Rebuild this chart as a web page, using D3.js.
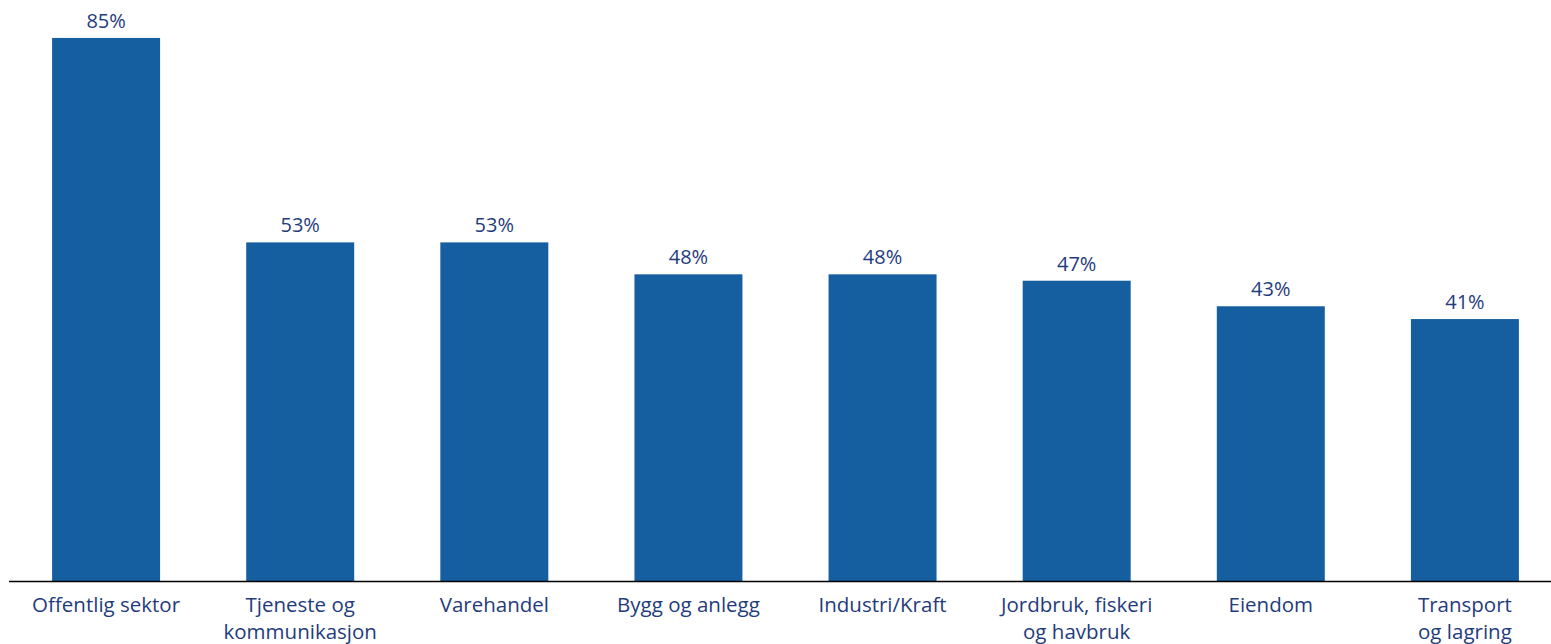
<!DOCTYPE html>
<html><head><meta charset="utf-8">
<script src="https://cdn.jsdelivr.net/npm/d3@7"></script>
<style>body{margin:0;background:#fff}svg{display:block}</style>
</head><body>
<svg id="c" width="1551" height="644"></svg>
<script>
const categories = [["Offentlig sektor"],["Tjeneste og","kommunikasjon"],["Varehandel"],["Bygg og anlegg"],["Industri/Kraft"],["Jordbruk, fiskeri","og havbruk"],["Eiendom"],["Transport","og lagring"]];
const values = [85,53,53,48,48,47,43,41];
const barColor = "#155FA0", textColor = "#1F3C7C";
const svg = d3.select("#c");
const x = d3.scaleBand().domain(d3.range(categories.length)).range([9,1562]).paddingInner(0.4437).paddingOuter(0.222);
const y = d3.scaleLinear().domain([0,90]).range([581,6]);
const font = "'Open Sans', sans-serif";
svg.selectAll("rect.bar").data(values).join("rect").attr("class","bar")
  .attr("x",(d,i)=>x(i)).attr("width",x.bandwidth())
  .attr("y",d=>y(d)).attr("height",d=>y(0)-y(d)).attr("fill",barColor);
svg.selectAll("text.val").data(values).join("text").attr("class","val")
  .attr("x",(d,i)=>x(i)+x.bandwidth()/2).attr("y",d=>y(d)-10)
  .attr("text-anchor","middle").attr("font-family",font).attr("font-size",20)
  .attr("fill",textColor).text(d=>d+"%");
svg.append("line").attr("x1",9).attr("x2",1551).attr("y1",y(0)+0.5).attr("y2",y(0)+0.5)
  .attr("stroke","#000").attr("stroke-width",1.5);
const cat = svg.selectAll("text.cat").data(categories).join("text").attr("class","cat")
  .attr("text-anchor","middle").attr("font-family",font).attr("font-size",20.5).attr("fill",textColor);
cat.each(function(lines,i){
  const t=d3.select(this);
  lines.forEach((l,j)=>t.append("tspan").attr("x",x(i)+x.bandwidth()/2).attr("y",612+j*27).text(l));
});
</script>
</body></html>
